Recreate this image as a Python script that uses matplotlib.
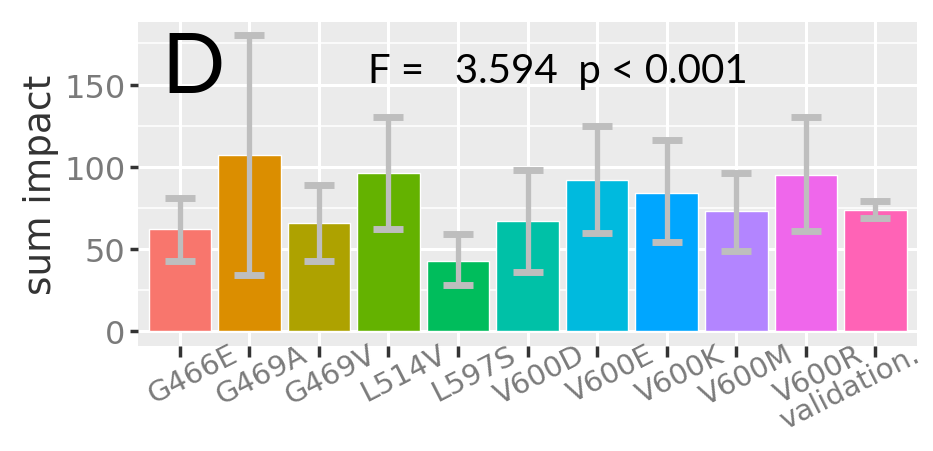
import matplotlib
matplotlib.use("Agg")
import matplotlib.pyplot as plt
import numpy as np

categories = ["G466E", "G469A", "G469V", "L514V", "L597S", "V600D", "V600E",
              "V600K", "V600M", "V600R", "validation."]
means = [62, 107, 66, 96, 43, 67, 92, 84, 73, 95, 74]
err_low = [43, 34, 43, 62, 28, 36, 60, 54, 49, 61, 69]
err_high = [81, 180, 89, 130, 59, 98, 125, 116, 96, 130, 79]
colors = ["#F8766D", "#DB8E00", "#AEA200", "#64B200", "#00BD5C", "#00C1A7",
          "#00BADE", "#00A6FF", "#B385FF", "#EF67EB", "#FF63B6"]
yticks = [0, 50, 100, 150]
minor_yticks = [25, 75, 125, 175]

fig = plt.figure(figsize=(9.33, 4.52), dpi=100)
ax = fig.add_axes([0.148, 0.232, 0.835, 0.717])
ax.set_facecolor("#EBEBEB")

x = np.arange(len(categories))
ax.bar(x, means, width=0.9, color=colors, edgecolor="white", linewidth=1.0, zorder=3)
m = np.array(means)
lo = m - np.array(err_low)
hi = np.array(err_high) - m
ax.errorbar(x, m, yerr=[lo, hi], fmt="none", ecolor="#BEBEBE", elinewidth=3.8,
            capsize=11, capthick=5, zorder=4)

ax.set_xlim(-0.6, len(categories) - 0.4)
ax.set_ylim(-9, 188)
ax.set_yticks(yticks)
ax.set_yticks(minor_yticks, minor=True)
ax.set_xticks(x)
ax.set_xticklabels([])
n = len(categories)
for i, (xi, lab) in enumerate(zip(x, categories)):
    dx = 49 if i < n - 1 else 36
    ax.annotate(lab, xy=(xi, 0), xycoords=("data", "axes fraction"),
                xytext=(dx, 6), textcoords="offset pixels",
                rotation=27, ha="right", va="top", rotation_mode="anchor",
                fontsize=21, color="#7A7A7A", family="DejaVu Sans",
                annotation_clip=False)
ax.set_yticklabels([str(t) for t in yticks], fontsize=23, color="#7A7A7A",
                   family="DejaVu Sans")
ax.grid(True, which="major", color="white", linewidth=2.2, zorder=0)
ax.grid(True, which="minor", axis="y", color="white", linewidth=1.1, zorder=0)
ax.set_axisbelow(True)
for s in ax.spines.values():
    s.set_visible(False)
ax.tick_params(axis="both", which="major", length=6, width=2.5, color="#333333")
ax.tick_params(axis="y", pad=3)
ax.tick_params(axis="x", pad=2, length=8)
ax.tick_params(which="minor", length=0)

ax.set_ylabel("sum impact", fontsize=27, color="#333333", family="DejaVu Sans",
              labelpad=4)

ax.text(0.03, 0.855, "D", transform=ax.transAxes, fontsize=60, color="black",
        family="Lato", va="center", ha="left")
ax.text(0.295, 0.85, "F =   3.594  p < 0.001", transform=ax.transAxes,
        fontsize=29, color="black", family="Lato", va="center", ha="left")

fig.savefig("out.png", dpi=100)
